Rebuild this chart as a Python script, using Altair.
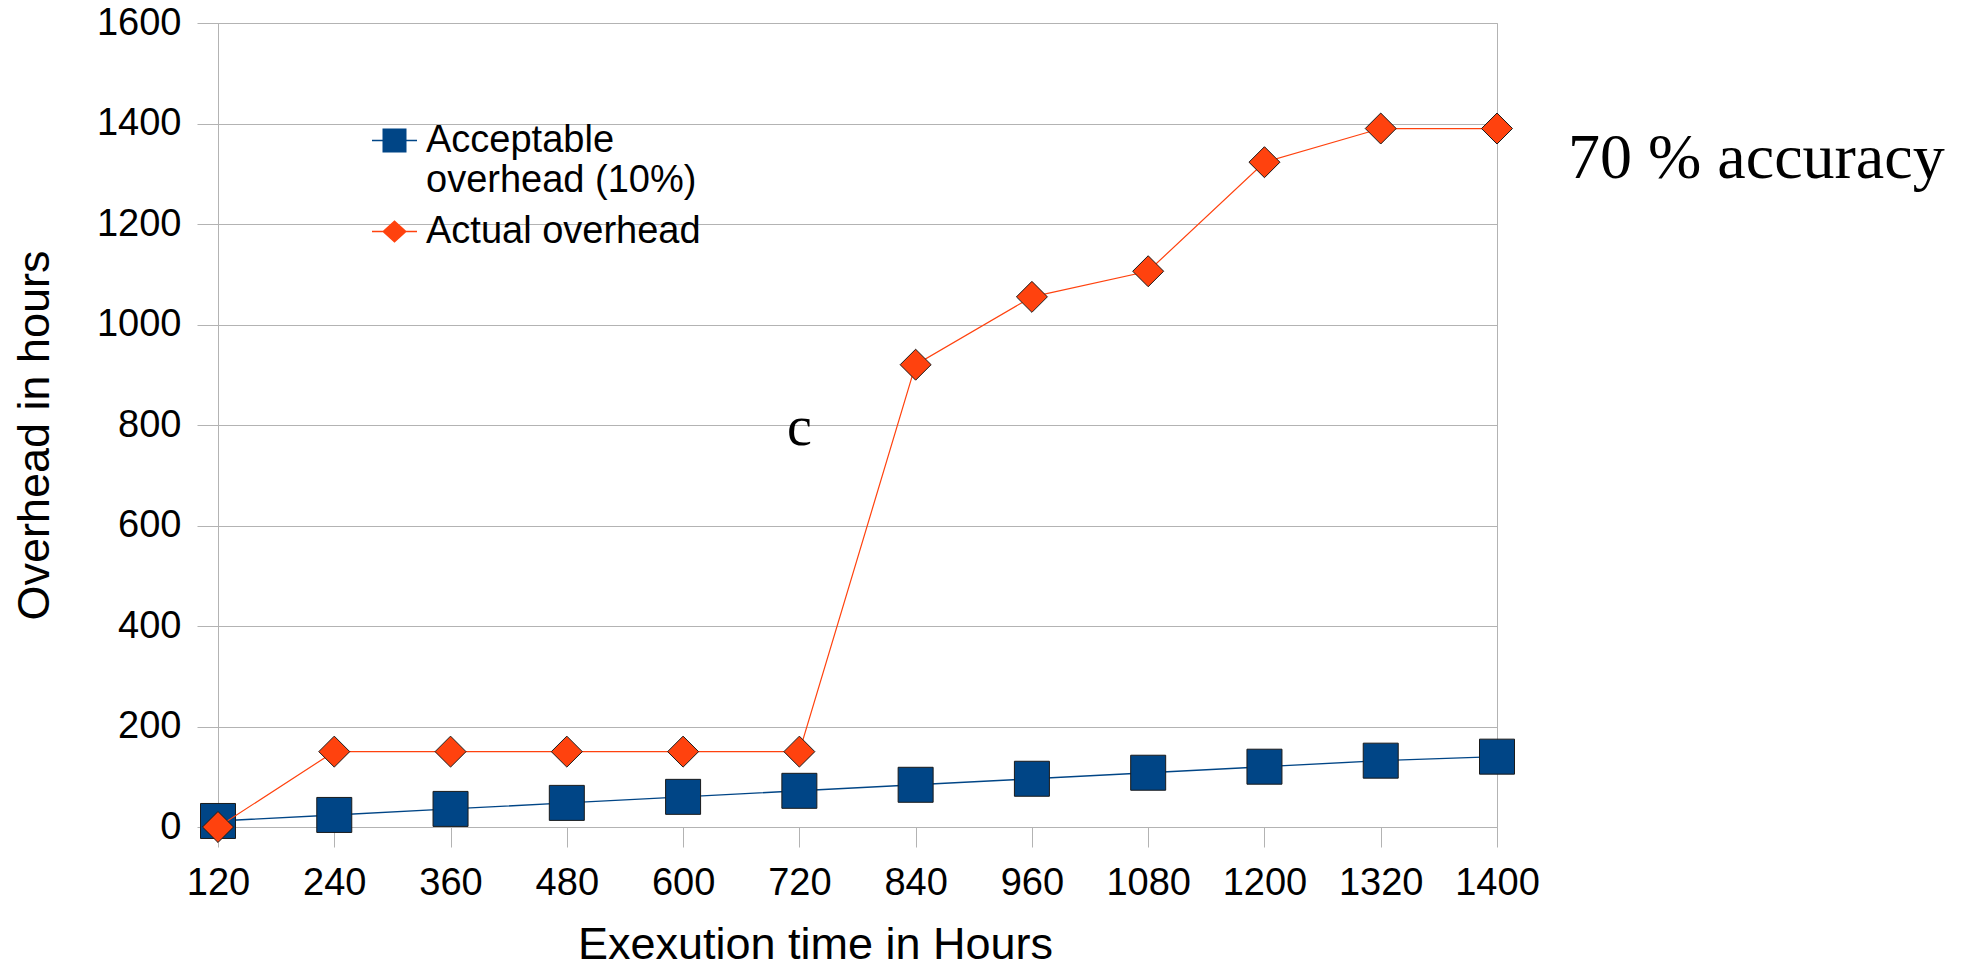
import altair as alt
import pandas as pd

# ---- data ----
x_labels = ["120", "240", "360", "480", "600", "720", "840", "960", "1080", "1200", "1320", "1400"]
acceptable = [12, 24, 36, 48, 60, 72, 84, 96, 108, 120, 132, 140]
actual = [0, 150, 150, 150, 150, 150, 920, 1055, 1106, 1323, 1390, 1390]
series_names = ["Acceptable overhead (10%)", "Actual overhead"]
y_ticks = [0, 200, 400, 600, 800, 1000, 1200, 1400, 1600]
note_c = ["c"]
note_acc = ["70 % accuracy"]

BLUE = "#004586"
ORANGE = "#ff420e"
GRAY = "#b3b3b3"
EDGE = "#1a1a1a"
SANS = "Liberation Sans"
SERIF = "Liberation Serif"

df = pd.DataFrame({
    "time": x_labels + x_labels,
    "idx": list(range(len(x_labels))) * 2,
    "value": acceptable + actual,
    "series": [series_names[0]] * len(x_labels) + [series_names[1]] * len(x_labels),
})

x_enc = alt.X(
    "time:N",
    sort=x_labels,
    scale=alt.Scale(type="point", padding=0, domain=x_labels),
    axis=alt.Axis(
        labelAngle=0, grid=False, tickSize=20, tickColor=GRAY, tickWidth=1,
        domainColor=GRAY, domainWidth=1,
        labelFont=SANS, labelFontSize=38, labelColor="black", labelPadding=17,
        title="Exexution time in Hours", titleFont=SANS, titleFontSize=45,
        titleFontWeight="normal", titleColor="black",
        titleX=597, titleY=117, titleBaseline="middle", titleAlign="center",
    ),
)
y_enc = alt.Y(
    "value:Q",
    scale=alt.Scale(domain=[0, 1600], nice=False, zero=True),
    axis=alt.Axis(
        values=y_ticks, format="d", grid=True, gridColor=GRAY, gridWidth=1,
        tickSize=21, tickColor=GRAY, tickWidth=1, domainColor=GRAY, domainWidth=1,
        labelFont=SANS, labelFontSize=38, labelColor="black", labelPadding=16,
        title="Overhead in hours", titleFont=SANS, titleFontSize=45,
        titleFontWeight="normal", titleColor="black", titleAngle=270,
        titleX=-184, titleY=412, titleBaseline="middle", titleAlign="center",
    ),
)

base = alt.Chart(df).encode(x=x_enc, y=y_enc, order=alt.Order("idx:Q"))

acc_line = base.transform_filter(alt.datum.series == series_names[0]).mark_line(
    color=BLUE, strokeWidth=1.4)
acc_pts = base.transform_filter(alt.datum.series == series_names[0]).mark_point(
    shape="square", filled=True, size=1225, fill=BLUE, stroke=EDGE, strokeWidth=1, opacity=1)
act_line = base.transform_filter(alt.datum.series == series_names[1]).mark_line(
    color=ORANGE, strokeWidth=1.2)
act_pts = base.transform_filter(alt.datum.series == series_names[1]).mark_point(
    shape="diamond", filled=True, size=960, fill=ORANGE, stroke=EDGE, strokeWidth=1, opacity=1)

# legend-only layer (no marks drawn, scales carry the legend)
sq_path = "M-1,0H-0.5M0.5,0H1M-0.5,-0.5H0.5V0.5H-0.5Z"
dm_path = "M-1,0H-0.5M0.5,0H1M-0.5,0L0,-0.45L0.5,0L0,0.45Z"
leg = alt.Legend(
    orient="none", legendX=153, legendY=94, title=None, padding=0,
    labelFont=SANS, labelFontSize=38, labelColor="black", labelLimit=1000,
    labelOffset=8, rowPadding=8, symbolSize=2025, symbolStrokeWidth=1.5,
    labelExpr="datum.label == 'Acceptable overhead (10%)' ? ['Acceptable', 'overhead (10%)'] : datum.label",
)
legend_layer = base.transform_filter("false").mark_point(filled=True, opacity=1).encode(
    shape=alt.Shape("series:N", scale=alt.Scale(domain=series_names, range=[sq_path, dm_path]), legend=leg),
    fill=alt.Fill("series:N", scale=alt.Scale(domain=series_names, range=[BLUE, ORANGE]), legend=leg),
    stroke=alt.Stroke("series:N", scale=alt.Scale(domain=series_names, range=[BLUE, ORANGE]), legend=leg),
)

c_text = alt.Chart(pd.DataFrame({"t": note_c})).mark_text(
    font=SERIF, fontSize=56, baseline="alphabetic", align="center", color="black"
).encode(x=alt.datum(x_labels[5]), y=alt.datum(760), text="t:N")

acc_text = alt.Chart(pd.DataFrame({"t": note_acc})).mark_text(
    font=SERIF, fontSize=64, baseline="alphabetic", align="left", color="black"
).encode(x=alt.value(1350), y=alt.value(155), text="t:N")

chart = alt.layer(acc_line, acc_pts, act_line, act_pts, legend_layer, c_text, acc_text).properties(
    width=1279, height=804,
    autosize=alt.AutoSizeParams(type="none"),
    padding={"left": 218, "top": 23, "right": 465, "bottom": 141},
    background="white",
).configure_view(stroke=GRAY, strokeWidth=1)

chart.save("out.html", embed_options={"renderer": "svg", "actions": False})
